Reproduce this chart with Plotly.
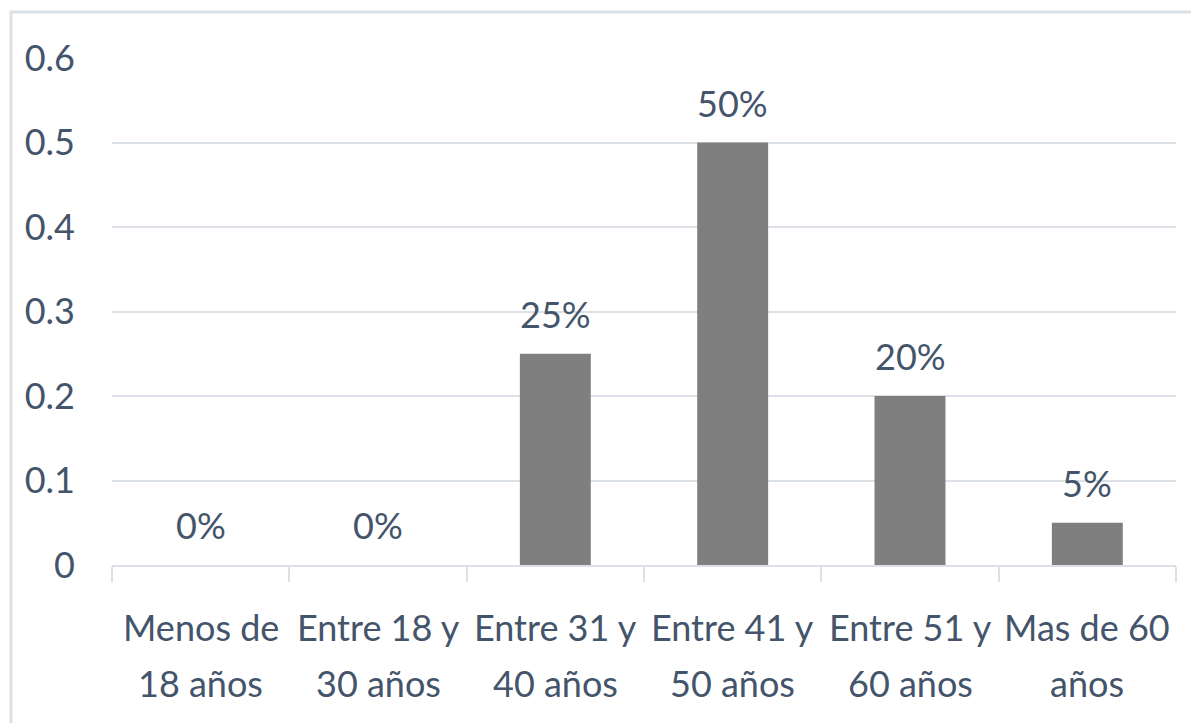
import plotly.graph_objects as go

categories = ["Menos de|18 años", "Entre 18 y|30 años", "Entre 31 y|40 años",
              "Entre 41 y|50 años", "Entre 51 y|60 años", "Mas de 60|años"]
values = [0.0, 0.0, 0.25, 0.50, 0.20, 0.05]
labels = ["0%", "0%", "25%", "50%", "20%", "5%"]
y_ticks = [0, 0.1, 0.2, 0.3, 0.4, 0.5, 0.6]
y_tick_text = ["0", "0.1", "0.2", "0.3", "0.4", "0.5", "0.6"]

FONT = "Lato, sans-serif"
FS = 36
TXT = "#44546A"
LINE = "#DCE1E8"
W, H = 1191, 723
ml, mr, mt, mb = 112, 15, 58, 158
pw = W - ml - mr
ph = H - mt - mb

fig = go.Figure(go.Bar(
    x=categories, y=values, marker=dict(color="#7F7F7F", line=dict(width=0)),
    hoverinfo="skip",
))

# data labels
for c, v, t in zip(categories, values, labels):
    fig.add_annotation(x=c, y=v, text=t, showarrow=False, yanchor="middle",
                       yshift=40, font=dict(family=FONT, size=FS, color=TXT))

# two-line category labels
for c in categories:
    l1, l2 = c.split("|")
    fig.add_annotation(x=c, yref="paper", y=(565 - 627) / ph, text=l1, showarrow=False,
                       yanchor="middle", font=dict(family=FONT, size=FS, color=TXT))
    fig.add_annotation(x=c, yref="paper", y=(565 - 683) / ph, text=l2, showarrow=False,
                       yanchor="middle", font=dict(family=FONT, size=FS, color=TXT))

# outer chart border
fig.add_shape(type="rect", xref="paper", yref="paper",
              x0=(11 - ml) / pw, x1=(W + 10 - ml) / pw,
              y0=-(H + 10 - mt - ph) / ph, y1=1 + (mt - 12) / ph,
              line=dict(color=LINE, width=3), layer="below")

fig.update_layout(
    width=W, height=H, margin=dict(l=ml, r=mr, t=mt, b=mb),
    paper_bgcolor="white", plot_bgcolor="white", bargap=0.6,
    showlegend=False, font=dict(family=FONT, size=FS, color=TXT),
)
fig.update_xaxes(showgrid=False, showline=True, linecolor=LINE, linewidth=2,
                 ticks="outside", tickson="boundaries", ticklen=15, tickwidth=2,
                 tickcolor=LINE, showticklabels=False, automargin=False)
fig.update_yaxes(range=[0, 0.6], tickvals=y_ticks, ticktext=y_tick_text,
                 showgrid=True, gridcolor=LINE, gridwidth=2, zeroline=False,
                 showline=False, tickfont=dict(family=FONT, size=FS, color=TXT),
                 ticklabelstandoff=36, automargin=False)

fig.write_html("out.html")
